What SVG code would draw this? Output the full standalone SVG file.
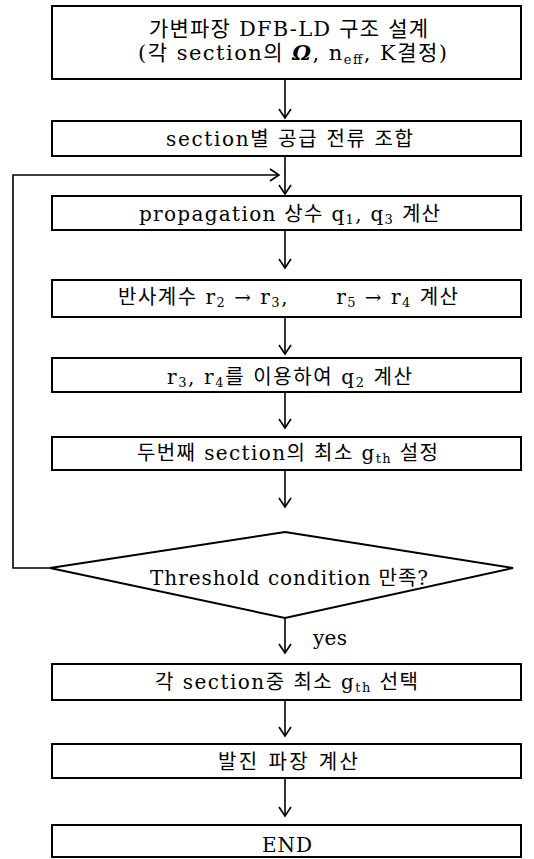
<svg xmlns="http://www.w3.org/2000/svg" width="534" height="859" viewBox="0 0 534 859">
<defs>
<marker id="ah" markerWidth="14" markerHeight="14" refX="12" refY="7" orient="auto" markerUnits="userSpaceOnUse">
<path d="M3,1 L12,7 L3,13" fill="none" stroke="#000" stroke-width="1.6"/>
</marker>
<style>
.box{fill:#fff;stroke:#000;stroke-width:2}
.con{fill:none;stroke:#000;stroke-width:1.6}
text{font-family:"DejaVu Serif","Noto Sans CJK KR",serif;font-size:20px;fill:#000}
.big{font-size:21px}
.sub{font-size:13px}
</style>
</defs>
<rect width="534" height="859" fill="#fff"/>
<g id="connectors">
<line class="con" x1="285" y1="79" x2="285" y2="118" marker-end="url(#ah)"/>
<line class="con" x1="285" y1="156" x2="285" y2="194" marker-end="url(#ah)"/>
<line class="con" x1="285" y1="230" x2="285" y2="268" marker-end="url(#ah)"/>
<line class="con" x1="285" y1="317" x2="285" y2="354" marker-end="url(#ah)"/>
<line class="con" x1="285" y1="392" x2="285" y2="428" marker-end="url(#ah)"/>
<line class="con" x1="285" y1="470" x2="285" y2="507" marker-end="url(#ah)"/>
<line class="con" x1="285" y1="618" x2="285" y2="653" marker-end="url(#ah)"/>
<line class="con" x1="285" y1="700" x2="285" y2="736" marker-end="url(#ah)"/>
<line class="con" x1="285" y1="778" x2="285" y2="816" marker-end="url(#ah)"/>
<polyline class="con" points="50,568 13,568 13,175 279,175" marker-end="url(#ah)"/>
<text x="313" y="645" textLength="34">yes</text>
</g>
<g id="n1">
<rect class="box" x="52" y="6" width="469" height="73"/>
<text class="big" x="149" y="36" textLength="279">가변파장 DFB-LD 구조 설계</text>
<text class="big" x="138" y="60" textLength="309">(각 section의 <tspan font-weight="bold" font-style="italic">Ω</tspan>, n<tspan class="sub" dy="4">eff</tspan><tspan dy="-4">, K결정)</tspan></text>
</g>
<g id="n2">
<rect class="box" x="52" y="121" width="469" height="35"/>
<text x="166" y="146" textLength="247">section별 공급 전류 조합</text>
</g>
<g id="n3">
<rect class="box" x="52" y="196" width="469" height="34"/>
<text x="139" y="221" textLength="301">propagation 상수 q<tspan class="sub" dy="3">1</tspan><tspan dy="-3">, q</tspan><tspan class="sub" dy="3">3</tspan><tspan dy="-3"> 계산</tspan></text>
</g>
<g id="n4">
<rect class="box" x="52" y="280" width="469" height="37"/>
<text x="118" y="304" textLength="340" xml:space="preserve">반사계수 r<tspan class="sub" dy="3">2</tspan><tspan dy="-3"> → r</tspan><tspan class="sub" dy="3">3</tspan><tspan dy="-3">,      r</tspan><tspan class="sub" dy="3">5</tspan><tspan dy="-3"> → r</tspan><tspan class="sub" dy="3">4</tspan><tspan dy="-3"> 계산</tspan></text>
</g>
<g id="n5">
<rect class="box" x="52" y="358" width="469" height="34"/>
<text x="167" y="384" textLength="245">r<tspan class="sub" dy="3">3</tspan><tspan dy="-3">, r</tspan><tspan class="sub" dy="3">4</tspan><tspan dy="-3">를 이용하여 q</tspan><tspan class="sub" dy="3">2</tspan><tspan dy="-3"> 계산</tspan></text>
</g>
<g id="n6">
<rect class="box" x="52" y="437" width="469" height="33"/>
<text x="137" y="460" textLength="301">두번째 section의 최소 g<tspan class="sub" dy="3">th</tspan><tspan dy="-3"> 설정</tspan></text>
</g>
<g id="n7">
<polygon class="box" points="285,532 513,568 285,618 50,568"/>
<text x="150" y="585" textLength="278">Threshold condition 만족?</text>
</g>
<g id="n8">
<rect class="box" x="52" y="664" width="469" height="36"/>
<text x="155" y="689" textLength="263">각 section중 최소 g<tspan class="sub" dy="3">th</tspan><tspan dy="-3"> 선택</tspan></text>
</g>
<g id="n9">
<rect class="box" x="52" y="744" width="469" height="34"/>
<text x="218" y="769" textLength="140">발진 파장 계산</text>
</g>
<g id="n10">
<rect class="box" x="52" y="825" width="469" height="32"/>
<text x="262" y="852" textLength="50">END</text>
</g>
</svg>
